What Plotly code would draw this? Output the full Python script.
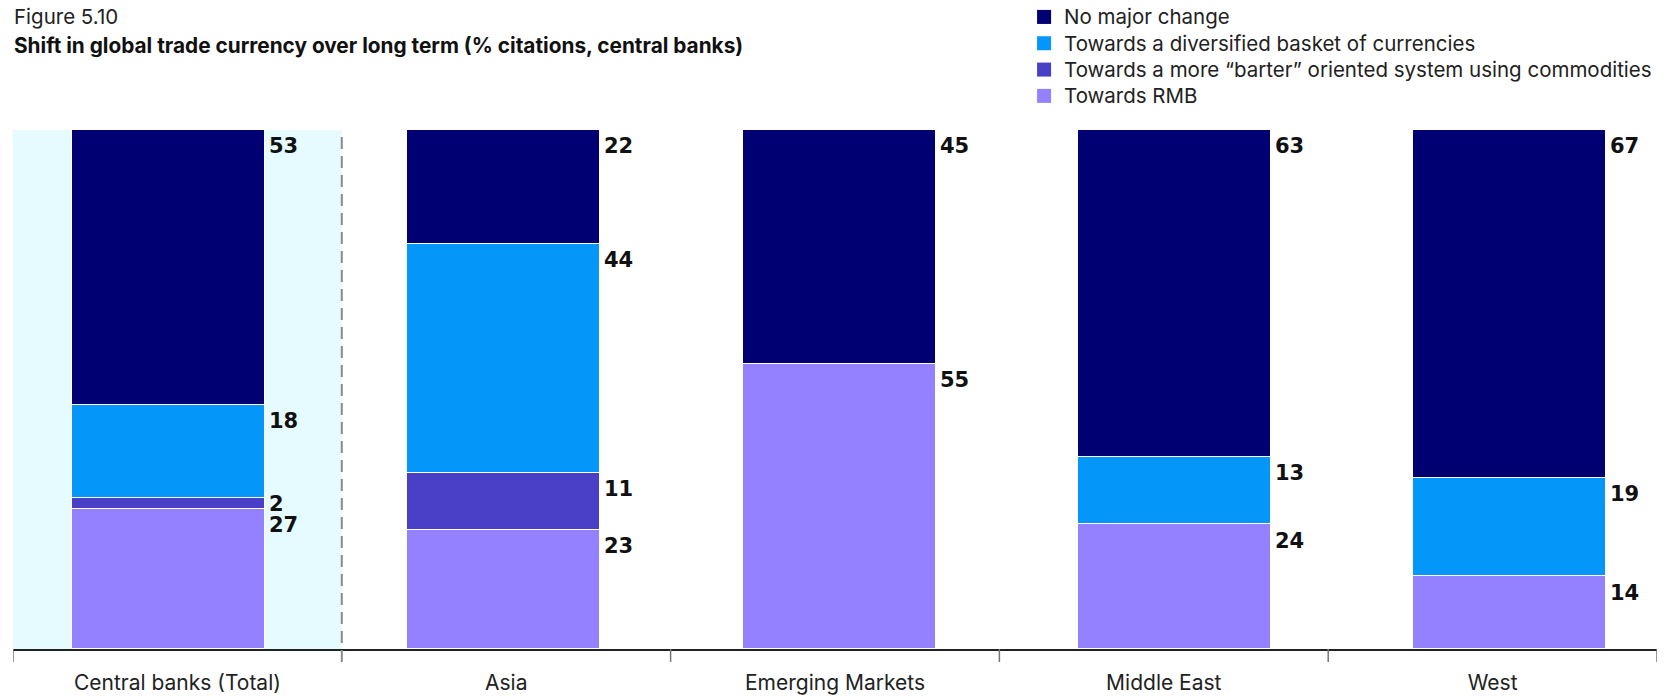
import plotly.graph_objects as go

# %% data
categories = ["Central banks (Total)", "Asia", "Emerging Markets", "Middle East", "West"]

towards_rmb = [27, 23, 55, 24, 14]
towards_barter = [2, 11, 0, 0, 0]
towards_basket = [18, 44, 0, 13, 19]
no_major_change = [53, 22, 45, 63, 67]

series = [
    ("Towards RMB", towards_rmb, "#9381FF"),
    ("Towards a more \u201cbarter\u201d oriented system using commodities", towards_barter, "#4A40C8"),
    ("Towards a diversified basket of currencies", towards_basket, "#0596FA"),
    ("No major change", no_major_change, "#000073"),
]

# %% layout constants (pixels)
W, H = 1673, 696
PLOT_L, PLOT_R, PLOT_T, PLOT_B = 13.3, 1656.7, 130, 648.7
PLOT_H = PLOT_B - PLOT_T
PLOT_W = PLOT_R - PLOT_L
TICK_PX = 13

BAR_START = 0.473   # centre of first bar, in category units
BAR_STEP = 1.0198
BAR_WIDTH = 0.587
LABEL_PX = 16.3     # label centre below segment top

LEG_TEXT_X = 1062
LEG_SQ = 14
LEG_ROW0 = 17
LEG_ROW_STEP = 26.3

xs = [BAR_START + i * BAR_STEP for i in range(len(categories))]

TEXT_FONT = "Inter, Roboto, sans-serif"
NUM_FONT = "DejaVu Sans, Arial, sans-serif"


def py_to_paper(py):
    return (PLOT_B - py) / PLOT_H


def px_to_paper(px):
    return (px - PLOT_L) / PLOT_W


fig = go.Figure()

for name, vals, color in series:
    fig.add_trace(
        go.Bar(
            x=xs,
            y=vals,
            width=BAR_WIDTH,
            name=name,
            showlegend=False,
            marker=dict(color=color, line=dict(color="white", width=1.5)),
            hoverinfo="skip",
        )
    )

# %% value labels to the right of each segment
label_shift = LABEL_PX / PLOT_H * 100
annotations = []
for i, x in enumerate(xs):
    base = 0
    for name, vals, color in series:
        v = vals[i]
        if v == 0:
            continue
        top = base + v
        y = max(top - label_shift, base + v / 2)
        annotations.append(
            dict(
                x=x + BAR_WIDTH / 2,
                y=y,
                xref="x",
                yref="y",
                text=f"<b>{v}</b>",
                showarrow=False,
                xanchor="left",
                yanchor="middle",
                xshift=2,
                font=dict(family=NUM_FONT, size=21, color="#111111"),
            )
        )
        base = top

# %% titles
annotations.append(
    dict(
        x=px_to_paper(12), y=py_to_paper(17), xref="paper", yref="paper",
        text="Figure 5.10", showarrow=False, xanchor="left", yanchor="middle",
        font=dict(family=TEXT_FONT, size=20.5, color="#222222"),
    )
)
annotations.append(
    dict(
        x=px_to_paper(12), y=py_to_paper(46), xref="paper", yref="paper",
        text="<b>Shift in global trade currency over long term (% citations, central banks)</b>",
        showarrow=False, xanchor="left", yanchor="middle",
        font=dict(family=TEXT_FONT, size=20.8, color="#111111"),
    )
)

# %% shapes: highlight, dashed divider, tick marks
tick_y = -TICK_PX / PLOT_H
shapes = [
    dict(type="rect", xref="x", yref="y", x0=0, x1=1, y0=0, y1=100,
         fillcolor="#E5FBFF", line=dict(width=0), layer="below"),
    dict(type="line", xref="x", yref="paper", x0=1, x1=1, y0=tick_y, y1=1,
         line=dict(color="#8A8A8A", width=2, dash="12px,7px")),
]
for k in [0, 2, 3, 4, 5]:
    shapes.append(
        dict(type="line", xref="x", yref="paper", x0=k, x1=k, y0=tick_y, y1=0,
             line=dict(color="#777777", width=1.5))
    )

# %% legend (top right, drawn by hand: No major change first)
for row, (name, vals, color) in enumerate(reversed(series)):
    cy = LEG_ROW0 + row * LEG_ROW_STEP
    sq_x1 = LEG_TEXT_X - 11
    shapes.append(
        dict(type="rect", xref="paper", yref="paper",
             x0=px_to_paper(sq_x1 - LEG_SQ), x1=px_to_paper(sq_x1),
             y0=py_to_paper(cy + LEG_SQ / 2), y1=py_to_paper(cy - LEG_SQ / 2),
             fillcolor=color, line=dict(width=0))
    )
    annotations.append(
        dict(x=px_to_paper(LEG_TEXT_X), y=py_to_paper(cy), xref="paper", yref="paper",
             text=name, showarrow=False, xanchor="left", yanchor="middle",
             font=dict(family=TEXT_FONT, size=20.5, color="#222222"))
    )

fig.update_layout(
    width=W,
    height=H,
    margin=dict(l=PLOT_L, r=W - PLOT_R, t=PLOT_T, b=H - PLOT_B, autoexpand=False),
    barmode="stack",
    bargap=0,
    plot_bgcolor="white",
    paper_bgcolor="white",
    showlegend=False,
    annotations=annotations,
    shapes=shapes,
)

fig.update_xaxes(
    range=[0, 5],
    tickmode="array",
    tickvals=[i + 0.5 for i in range(len(categories))],
    ticktext=categories,
    ticks="outside",
    ticklen=14,
    tickcolor="rgba(0,0,0,0)",
    tickfont=dict(family=TEXT_FONT, size=21, color="#222222"),
    showline=True,
    linecolor="#222222",
    linewidth=1.5,
    showgrid=False,
    zeroline=False,
    fixedrange=True,
)
fig.update_yaxes(
    range=[0, 100],
    visible=False,
    showgrid=False,
    zeroline=False,
    fixedrange=True,
)

# the page body has an 8px default margin; drop it so the figure fills the window
fig.write_html(
    "out.html",
    config={"displayModeBar": False},
    post_script="document.body.style.margin = '0';",
)
